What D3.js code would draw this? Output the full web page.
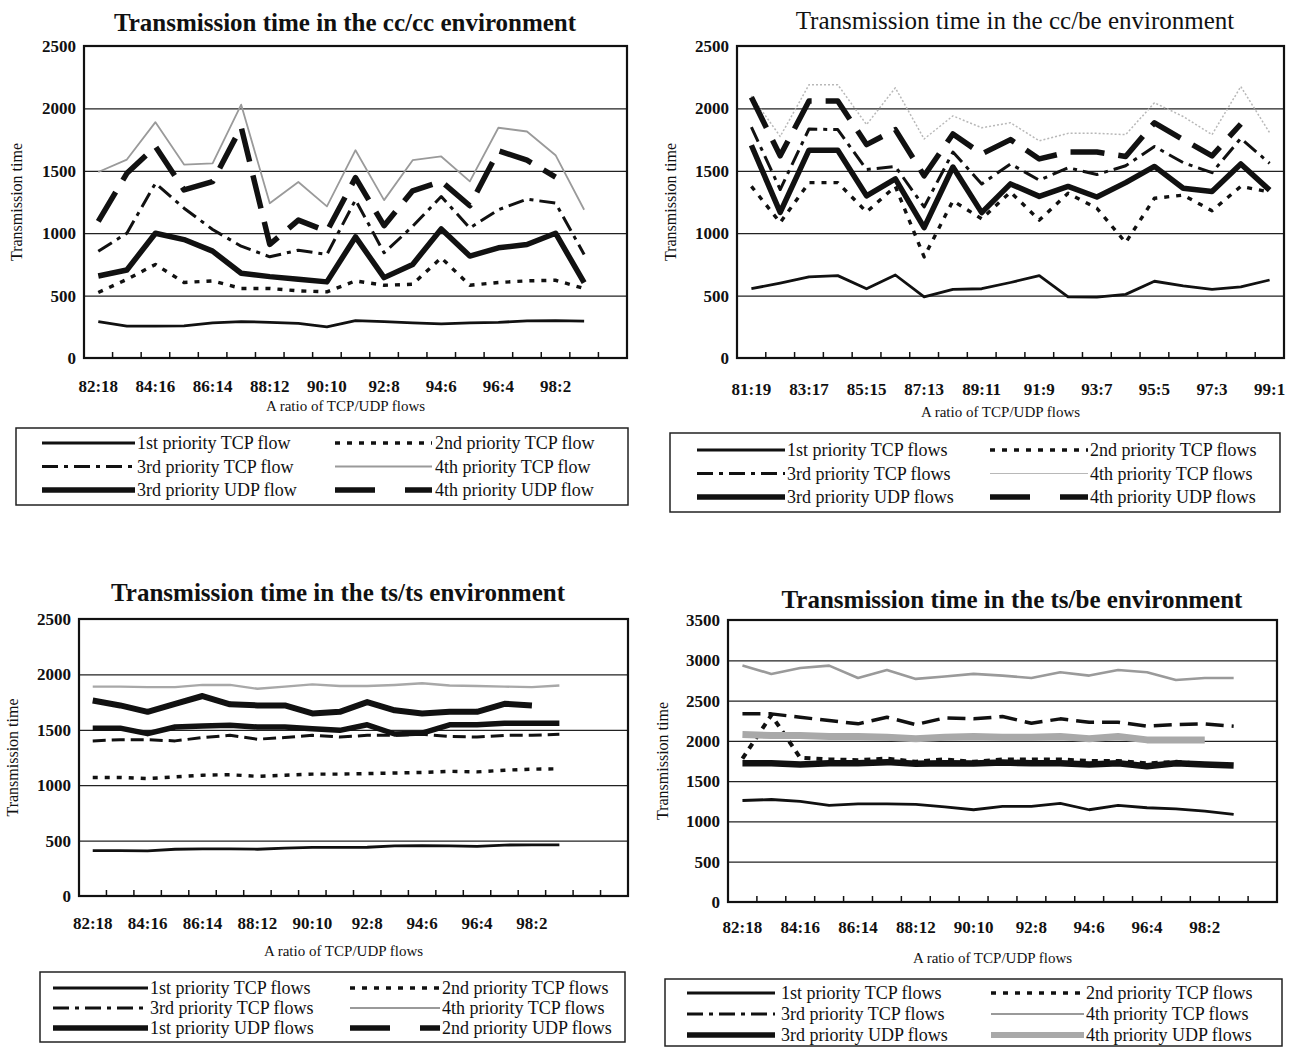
<!DOCTYPE html>
<html>
<head>
<meta charset="utf-8">
<script src="https://cdn.jsdelivr.net/npm/d3@7"></script>
<style>
body { margin: 0; background: #fff; }
svg text { font-family: 'Liberation Serif', 'Times New Roman', serif; fill: #111; }
</style>
</head>
<body>
<svg id="chart" width="1290" height="1047"></svg>
<script>
// x categories (TCP:UDP ratio)
const ratiosFrom82 = ['82:18', '83:17', '84:16', '85:15', '86:14', '87:13', '88:12', '89:11', '90:10',
    '91:9', '92:8', '93:7', '94:6', '95:5', '96:4', '97:3', '98:2', '99:1'];
const ratiosFrom81 = ['81:19'].concat(ratiosFrom82);

const yTicks2500 = [0, 500, 1000, 1500, 2000, 2500];
const yTicks3500 = [0, 500, 1000, 1500, 2000, 2500, 3000, 3500];

// cc/cc environment
const ccccTcp1 = [292, 255, 255, 258, 281, 292, 286, 278, 250, 300, 292, 281, 273, 281, 286, 297, 300, 295];
const ccccTcp2 = [525, 630, 750, 605, 618, 557, 557, 538, 530, 618, 583, 591, 803, 583, 605, 618, 623, 557];
const ccccTcp3 = [856, 1000, 1400, 1200, 1030, 896, 811, 864, 830, 1267, 843, 1055, 1294, 1042, 1188, 1273, 1241, 830];
const ccccTcp4 = [1490, 1590, 1890, 1550, 1560, 2030, 1240, 1410, 1215, 1665, 1265, 1585, 1615, 1415, 1845, 1815, 1625, 1188];
const ccccUdp3 = [657, 705, 1000, 949, 856, 679, 652, 631, 610, 970, 644, 750, 1034, 817, 883, 909, 1000, 604];
const ccccUdp4 = [1095, 1480, 1695, 1347, 1413, 1850, 910, 1105, 1015, 1445, 1060, 1340, 1415, 1220, 1660, 1585, 1450, null];

// cc/be environment
const ccbeTcp1 = [555, 600, 650, 660, 555, 665, 490, 550, 555, 605, 660, 490, 487, 510, 615, 578, 550, 570, 625];
const ccbeTcp2 = [1375, 1085, 1405, 1405, 1170, 1375, 810, 1260, 1115, 1330, 1105, 1320, 1200, 925, 1280, 1305, 1180, 1375, 1330];
const ccbeTcp3 = [1850, 1350, 1835, 1830, 1510, 1535, 1210, 1650, 1395, 1555, 1425, 1525, 1470, 1540, 1695, 1565, 1485, 1760, 1560];
const ccbeTcp4 = [2100, 1775, 2190, 2190, 1870, 2165, 1755, 1940, 1845, 1885, 1740, 1800, 1800, 1790, 2045, 1935, 1790, 2175, 1805];
const ccbeUdp3 = [1705, 1167, 1665, 1665, 1300, 1435, 1045, 1530, 1165, 1395, 1295, 1375, 1290, 1405, 1535, 1360, 1335, 1555, 1345];
const ccbeUdp4 = [2090, 1620, 2060, 2060, 1710, 1830, 1460, 1795, 1635, 1750, 1595, 1650, 1650, 1615, 1885, 1750, 1620, 1875, null];

// ts/ts environment
const tstsTcp1 = [410, 410, 408, 422, 425, 425, 422, 432, 438, 438, 440, 452, 455, 452, 448, 460, 462, 462];
const tstsTcp2 = [1070, 1070, 1060, 1075, 1090, 1095, 1080, 1090, 1100, 1100, 1105, 1110, 1115, 1125, 1120, 1135, 1145, 1148];
const tstsTcp3 = [1400, 1410, 1410, 1400, 1430, 1450, 1415, 1430, 1450, 1435, 1450, 1450, 1460, 1440, 1435, 1450, 1450, 1460];
const tstsTcp4 = [1890, 1890, 1885, 1885, 1905, 1905, 1870, 1890, 1910, 1895, 1895, 1905, 1920, 1900, 1895, 1890, 1885, 1900];
const tstsUdp1 = [1515, 1515, 1465, 1525, 1535, 1540, 1525, 1525, 1510, 1495, 1545, 1462, 1470, 1545, 1545, 1560, 1560, 1560];
const tstsUdp2 = [1765, 1720, 1662, 1735, 1805, 1730, 1720, 1720, 1648, 1662, 1750, 1676, 1648, 1662, 1662, 1735, 1720, null];

// ts/be environment
const tsbeTcp1 = [1260, 1272, 1248, 1200, 1219, 1219, 1211, 1180, 1145, 1186, 1186, 1225, 1145, 1198, 1170, 1157, 1128, 1088];
const tsbeTcp2 = [1780, 2320, 1790, 1770, 1760, 1780, 1740, 1770, 1740, 1770, 1770, 1770, 1750, 1750, 1720, 1740, 1710, 1700];
const tsbeTcp3 = [2335, 2335, 2293, 2252, 2211, 2293, 2202, 2285, 2273, 2302, 2219, 2273, 2231, 2231, 2182, 2202, 2211, 2182];
const tsbeTcp4 = [2934, 2831, 2905, 2934, 2781, 2880, 2769, 2798, 2831, 2810, 2781, 2851, 2810, 2880, 2851, 2756, 2781, 2781];
const tsbeUdp3 = [1723, 1723, 1707, 1723, 1723, 1736, 1715, 1723, 1720, 1730, 1723, 1723, 1707, 1723, 1686, 1723, 1707, 1694];
const tsbeUdp4 = [2079, 2066, 2066, 2054, 2054, 2045, 2025, 2045, 2054, 2045, 2045, 2054, 2025, 2054, 2012, 2012, 2012, null];

// legend labels
const namesFlow = ['1st priority TCP flow', '2nd priority TCP flow', '3rd priority TCP flow',
    '4th priority TCP flow', '3rd priority UDP flow', '4th priority UDP flow'];
const namesFlows = namesFlow.map(d => d + 's');
const namesTsts = ['1st priority TCP flows', '2nd priority TCP flows', '3rd priority TCP flows',
    '4th priority TCP flows', '1st priority UDP flows', '2nd priority UDP flows'];

// line looks
const solidLine = { color: '#111', width: 2.8, dash: null };
const dotLine = { color: '#111', width: 3.4, dash: '5,7' };
const dashDotLine = { color: '#111', width: 3, dash: '16,6,4,6' };
const grayLine = { color: '#9a9a9a', width: 1.8, dash: null };
const thickLine = { color: '#111', width: 5.5, dash: null };
const thickDashLine = { color: '#111', width: 5.5, dash: '34,14' };

const svg = d3.select('#chart');

const panels = [
    {
        title: 'Transmission time in the cc/cc environment', bold: true, titleX: 345, titleY: 31,
        ratios: ratiosFrom82, extraBands: 1, yTicks: yTicks2500,
        left: 84, right: 627, top: 46, bottom: 358, labelGap: 22, xTitleY: 411, yTitleX: 22,
        legend: { x: 16, y: 428, w: 612, h: 77, row0: 443, rowStep: 23.5, s1: [26, 119], t1: 121, s2: [319, 416], t2: 419 },
        names: namesFlow,
        series: [ccccTcp1, ccccTcp2, ccccTcp3, ccccTcp4, ccccUdp3, ccccUdp4],
        looks: [solidLine, dotLine, dashDotLine, grayLine, thickLine, thickDashLine],
        legendLooks: [solidLine, dotLine, dashDotLine, grayLine, thickLine, { color: '#111', width: 5.5, dash: '40,30' }]
    },
    {
        title: 'Transmission time in the cc/be environment', bold: false, titleX: 1015, titleY: 29,
        ratios: ratiosFrom81, extraBands: 0, yTicks: yTicks2500,
        left: 737, right: 1284, top: 46, bottom: 358, labelGap: 25, xTitleY: 417, yTitleX: 676,
        legend: { x: 670, y: 433, w: 610, h: 79, row0: 450, rowStep: 23.5, s1: [27, 115], t1: 117, s2: [320, 418], t2: 420 },
        names: namesFlows,
        series: [ccbeTcp1, ccbeTcp2, ccbeTcp3, ccbeTcp4, ccbeUdp3, ccbeUdp4],
        looks: [solidLine, dotLine, dashDotLine, { color: '#b8b8b8', width: 1.5, dash: '2,2' }, thickLine, thickDashLine],
        legendLooks: [solidLine, dotLine, dashDotLine, { color: '#b8b8b8', width: 1.2, dash: null }, thickLine, { color: '#111', width: 5.5, dash: '40,30' }]
    },
    {
        title: 'Transmission time in the ts/ts environment', bold: true, titleX: 338, titleY: 601,
        ratios: ratiosFrom82, extraBands: 2, yTicks: yTicks2500,
        left: 79, right: 628, top: 619, bottom: 896, labelGap: 21, xTitleY: 956, yTitleX: 18,
        legend: { x: 40, y: 972, w: 585, h: 70, row0: 988, rowStep: 20, s1: [13, 108], t1: 110, s2: [310, 400], t2: 402 },
        names: namesTsts,
        series: [tstsTcp1, tstsTcp2, tstsTcp3, tstsTcp4, tstsUdp1, tstsUdp2],
        looks: [solidLine, dotLine, { color: '#111', width: 3, dash: '13,6' }, { color: '#a8a8a8', width: 2.4, dash: null }, thickLine, { color: '#111', width: 6, dash: null }],
        legendLooks: [solidLine, dotLine, dashDotLine, grayLine, thickLine, { color: '#111', width: 5.5, dash: '40,30' }]
    },
    {
        title: 'Transmission time in the ts/be environment', bold: true, titleX: 1012, titleY: 608,
        ratios: ratiosFrom82, extraBands: 1, yTicks: yTicks3500,
        left: 728, right: 1277, top: 620, bottom: 902, labelGap: 19, xTitleY: 963, yTitleX: 668,
        legend: { x: 665, y: 979, w: 617, h: 67, row0: 993, rowStep: 21, s1: [22, 110], t1: 116, s2: [326, 419], t2: 421 },
        names: namesFlows,
        series: [tsbeTcp1, tsbeTcp2, tsbeTcp3, tsbeTcp4, tsbeUdp3, tsbeUdp4],
        looks: [solidLine, { color: '#111', width: 4, dash: '6,6' }, { color: '#111', width: 3.5, dash: '18,8' },
            { color: '#9a9a9a', width: 2.6, dash: null }, { color: '#111', width: 6.5, dash: null }, { color: '#a9a9a9', width: 7, dash: null }],
        legendLooks: [solidLine, dotLine, dashDotLine, grayLine, thickLine, { color: '#a9a9a9', width: 6, dash: null }]
    }
];

const styleLine = (sel, look) => sel
    .attr('fill', 'none')
    .attr('stroke', look.color)
    .attr('stroke-width', look.width)
    .attr('stroke-dasharray', look.dash)
    .attr('stroke-linejoin', 'round');

const drawPanel = (p) => {
    const g = svg.append('g');
    const cats = p.ratios.concat(d3.range(p.extraBands).map(i => 'blank' + i));

    const x = d3.scaleBand().domain(cats).range([p.left, p.right]);
    const y = d3.scaleLinear().domain([0, d3.max(p.yTicks)]).range([p.bottom, p.top]);

    // horizontal grid lines
    g.append('g')
        .attr('transform', 'translate(' + p.left + ',0)')
        .call(d3.axisLeft(y).tickValues(p.yTicks.slice(1, -1)).tickSize(-(p.right - p.left)).tickFormat(''))
        .call(a => a.select('.domain').remove())
        .selectAll('line')
        .attr('stroke', '#222')
        .attr('stroke-width', 1.3);

    // y tick labels
    g.append('g')
        .attr('transform', 'translate(' + (p.left - 8) + ',0)')
        .call(d3.axisLeft(y).tickValues(p.yTicks).tickSize(0).tickPadding(0).tickFormat(d3.format('d')))
        .call(a => a.select('.domain').remove())
        .attr('font-size', 17)
        .attr('font-weight', 'bold');

    // x tick labels, every second ratio
    g.append('g')
        .attr('transform', 'translate(0,' + p.bottom + ')')
        .call(d3.axisBottom(x).tickValues(p.ratios.filter((d, i) => i % 2 === 0)).tickSize(0).tickPadding(p.labelGap))
        .call(a => a.select('.domain').remove())
        .attr('font-size', 17)
        .attr('font-weight', 'bold');

    // tick marks between categories
    g.append('g')
        .selectAll('line')
        .data(cats.slice(1))
        .join('line')
        .attr('x1', d => x(d))
        .attr('x2', d => x(d))
        .attr('y1', p.bottom + 1)
        .attr('y2', p.bottom - 6)
        .attr('stroke', '#111')
        .attr('stroke-width', 1.5);

    // data lines
    const line = d3.line()
        .defined(d => d.v != null)
        .x(d => x(d.c) + x.bandwidth() / 2)
        .y(d => y(d.v));

    p.series.forEach((vals, i) => {
        g.append('path')
            .datum(vals.map((v, j) => ({ c: p.ratios[j], v: v })))
            .attr('d', line)
            .call(styleLine, p.looks[i]);
    });

    // frame
    g.append('rect')
        .attr('x', p.left)
        .attr('y', p.top)
        .attr('width', p.right - p.left)
        .attr('height', p.bottom - p.top)
        .attr('fill', 'none')
        .attr('stroke', '#111')
        .attr('stroke-width', 2.2);

    // titles
    g.append('text')
        .attr('x', p.titleX)
        .attr('y', p.titleY)
        .attr('text-anchor', 'middle')
        .attr('font-size', 25)
        .attr('font-weight', p.bold ? 'bold' : 'normal')
        .text(p.title);

    g.append('text')
        .attr('x', (p.left + p.right) / 2 - 10)
        .attr('y', p.xTitleY)
        .attr('text-anchor', 'middle')
        .attr('font-size', 15)
        .text('A ratio of TCP/UDP flows');

    g.append('text')
        .attr('transform', 'translate(' + p.yTitleX + ',' + (p.top + p.bottom) / 2 + ') rotate(-90)')
        .attr('text-anchor', 'middle')
        .attr('font-size', 16)
        .text('Transmission time');

    // legend
    const lg = p.legend;
    g.append('rect')
        .attr('x', lg.x)
        .attr('y', lg.y)
        .attr('width', lg.w)
        .attr('height', lg.h)
        .attr('fill', 'none')
        .attr('stroke', '#222')
        .attr('stroke-width', 1.5);

    const items = g.append('g')
        .selectAll('g')
        .data(p.names)
        .join('g')
        .attr('transform', (d, i) => 'translate(' + lg.x + ',' + (lg.row0 + Math.floor(i / 2) * lg.rowStep) + ')');

    items.append('line')
        .attr('x1', (d, i) => i % 2 === 0 ? lg.s1[0] : lg.s2[0])
        .attr('x2', (d, i) => i % 2 === 0 ? lg.s1[1] : lg.s2[1])
        .each(function (d, i) { d3.select(this).call(styleLine, p.legendLooks[i]); });

    items.append('text')
        .attr('x', (d, i) => i % 2 === 0 ? lg.t1 : lg.t2)
        .attr('dy', '0.35em')
        .attr('font-size', 18)
        .text(d => d);
};

panels.forEach(drawPanel);
</script>
</body>
</html>
